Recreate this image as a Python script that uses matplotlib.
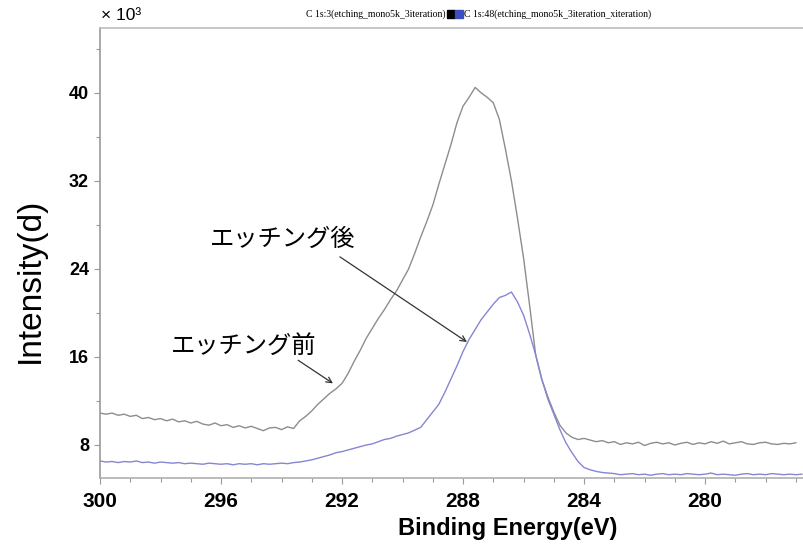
import numpy as np
import matplotlib
matplotlib.use("Agg")
import matplotlib.pyplot as plt
from matplotlib.patches import Rectangle
from matplotlib.ticker import MultipleLocator

# binding energy grid (eV), 0.2 eV steps from 300 down to 276.8
energy = np.linspace(300.0, 276.8, 117)

# C 1s, before etching (x10^3 counts)
before = [
    10.9, 10.8, 10.9, 10.7, 10.8, 10.6, 10.7, 10.4, 10.5, 10.3,
    10.4, 10.2, 10.35, 10.1, 10.2, 10.0, 10.15, 9.9, 9.8, 10.0,
    9.75, 9.85, 9.6, 9.75, 9.55, 9.7, 9.5, 9.3, 9.55, 9.6,
    9.4, 9.65, 9.5, 10.2, 10.6, 11.1, 11.7, 12.2, 12.7, 13.1,
    13.6, 14.5, 15.6, 16.6, 17.7, 18.6, 19.5, 20.3, 21.2, 22.0,
    23.0, 24.0, 25.4, 26.9, 28.3, 29.8, 31.7, 33.5, 35.3, 37.3,
    38.8, 39.6, 40.5, 40.0, 39.6, 39.1, 37.6, 34.9, 32.0, 28.6,
    25.0, 20.7, 16.2, 14.0, 12.4, 11.0, 9.8, 9.1, 8.7, 8.5,
    8.6, 8.45, 8.3, 8.4, 8.2, 8.3, 8.05, 8.2, 8.1, 8.25,
    7.95, 8.15, 8.25, 8.1, 8.2, 8.0, 8.15, 8.25, 8.05, 8.2,
    8.1, 8.3, 8.15, 8.35, 8.1, 8.2, 8.3, 8.1, 8.05, 8.2,
    8.25, 8.1, 8.05, 8.15, 8.1, 8.2,
]

# C 1s, after etching (x10^3 counts)
after = [
    6.55, 6.45, 6.5, 6.4, 6.5, 6.45, 6.55, 6.4, 6.45, 6.35,
    6.45, 6.4, 6.35, 6.4, 6.3, 6.35, 6.3, 6.25, 6.35, 6.3,
    6.25, 6.3, 6.2, 6.3, 6.25, 6.3, 6.2, 6.3, 6.25, 6.3,
    6.35, 6.3, 6.4, 6.45, 6.55, 6.65, 6.8, 6.95, 7.1, 7.3,
    7.4, 7.55, 7.7, 7.85, 8.0, 8.1, 8.3, 8.5, 8.6, 8.8,
    8.95, 9.1, 9.35, 9.6, 10.3, 11.0, 11.7, 12.8, 14.0, 15.2,
    16.5, 17.6, 18.5, 19.4, 20.1, 20.8, 21.4, 21.6, 21.9, 21.0,
    19.8, 18.1, 16.2, 14.0, 12.2, 10.8, 9.4, 8.2, 7.3, 6.5,
    5.95, 5.75, 5.6, 5.5, 5.45, 5.4, 5.3, 5.35, 5.4, 5.3,
    5.35, 5.25, 5.35, 5.4, 5.3, 5.35, 5.3, 5.4, 5.35, 5.3,
    5.35, 5.45, 5.3, 5.35, 5.3, 5.25, 5.35, 5.4, 5.3, 5.35,
    5.3, 5.4, 5.35, 5.3, 5.35, 5.3, 5.35,
]

x_ticks = [300, 296, 292, 288, 284, 280]
y_ticks = [8, 16, 24, 32, 40]

W, H = 804, 544
fig = plt.figure(figsize=(W / 100, H / 100), dpi=100)
ax = fig.add_axes([100 / W, 1 - 478 / H, 704 / W, 450 / H])

ax.plot(energy[:len(before)], before, color="#8d8d8d", lw=1.0)
ax.plot(energy[:len(after)], after, color="#8686d2", lw=1.0)

ax.set_xlim(300, 276.73)
ax.set_ylim(5.0, 45.9)
ax.set_xticks(x_ticks)
ax.set_yticks(y_ticks)
ax.xaxis.set_minor_locator(MultipleLocator(1))
ax.yaxis.set_minor_locator(MultipleLocator(4))

sans = "Liberation Sans"
ax.set_xticklabels([str(t) for t in x_ticks], fontsize=15, family=sans, weight="bold")
ax.set_yticklabels([str(t) for t in y_ticks], fontsize=13, family=sans, weight="bold")
ax.tick_params(which="both", direction="out", color="#9a9a9a", width=0.8)
ax.tick_params(axis="x", which="major", length=4, pad=6)
ax.tick_params(axis="y", which="major", length=4, pad=4)
ax.tick_params(which="minor", length=3)

ax.spines["right"].set_visible(False)
ax.spines["top"].set_color("#bdbdbd")
ax.spines["left"].set_color("#9a9a9a")
ax.spines["bottom"].set_color("#b0b0b0")
for s in ax.spines.values():
    s.set_linewidth(1.2)

fig.text(508 / W, 1 - 528 / H, "Binding Energy(eV)", fontsize=17,
         family=sans, weight="bold", ha="center", va="center")
fig.text(30 / W, 1 - 280 / H, "Intensity(d)", rotation=90, fontsize=24,
         family=sans, ha="center", va="center")

fig.text(101 / W, 1 - 15 / H, "× 10³", fontsize=12.5,
         family=sans, ha="left", va="center")

# legend strip above the plot
fig.text(446 / W, 1 - 14 / H, "C 1s:3(etching_mono5k_3iteration)", fontsize=7,
         family="Liberation Serif", ha="right", va="center")
fig.patches.append(Rectangle((447 / W, 1 - 18 / H), 8 / W, 8 / H,
                             transform=fig.transFigure, color="black"))
fig.patches.append(Rectangle((455 / W, 1 - 18 / H), 8 / W, 8 / H,
                             transform=fig.transFigure, color="#3a4fc0"))
fig.text(464 / W, 1 - 14 / H, "C 1s:48(etching_mono5k_3iteration_xiteration)",
         fontsize=7, family="Liberation Serif", ha="left", va="center")

jp = dict(family=["Noto Sans CJK JP", "DejaVu Sans"], fontsize=17.5,
          ha="center", va="center")
ax.text(293.95, 26.7, "エッチング後", **jp)
ax.text(295.24, 17.0, "エッチング前", **jp)
arrow = dict(arrowstyle="->", color="#333333", lw=0.9, shrinkA=0, shrinkB=0)
ax.annotate("", xy=(287.87, 17.36), xytext=(292.07, 25.1), arrowprops=arrow)
ax.annotate("", xy=(292.30, 13.6), xytext=(293.45, 15.7), arrowprops=arrow)

fig.savefig("out.png", dpi=100)
